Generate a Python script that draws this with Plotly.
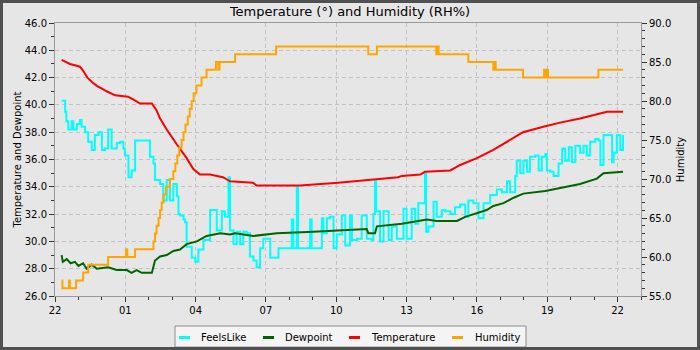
import pandas as pd
import plotly.graph_objects as go

# Readings are logged as minutes after 22:00 on the first evening.
START = pd.Timestamp("2024-03-09 22:00")

# Temperature (°)
temp_min = [17, 30, 38, 51, 64, 72, 83, 94, 107, 120, 132, 154, 187, 200, 218, 248,
            260, 269, 286, 312, 337, 354, 371, 397, 430, 448, 507, 516, 627, 725,
            763, 819, 878, 888, 935, 947, 1012, 1037, 1080, 1122, 1165, 1198, 1250,
            1293, 1344, 1387, 1413, 1454]
temp_val = [43.3, 43.1, 43.0, 42.9, 42.8, 42.5, 42.0, 41.7, 41.4, 41.2, 41.0, 40.7,
            40.6, 40.4, 40.1, 40.1, 39.6, 39.0, 38.2, 37.1, 36.1, 35.3, 34.9, 34.9,
            34.7, 34.4, 34.3, 34.1, 34.1, 34.3, 34.4, 34.6, 34.7, 34.8, 34.9, 35.1,
            35.2, 35.6, 36.1, 36.7, 37.4, 38.0, 38.4, 38.7, 39.0, 39.3, 39.5, 39.5]

# Dewpoint (°)
dew_min = [17, 20, 30, 40, 51, 60, 72, 81, 94, 107, 136, 158, 184, 196, 209, 222,
           248, 256, 269, 286, 303, 320, 337, 363, 388, 423, 448, 461, 508, 568,
           661, 725, 798, 802, 819, 824, 888, 930, 952, 977, 1029, 1050, 1084,
           1105, 1122, 1148, 1174, 1199, 1255, 1293, 1344, 1387, 1404, 1454]
dew_val = [29.0, 28.5, 28.7, 28.4, 28.5, 28.2, 28.4, 28.0, 28.3, 28.0, 28.1, 27.9,
           27.9, 27.7, 27.9, 27.7, 27.7, 28.6, 28.9, 29.0, 29.3, 29.4, 29.8, 30.0,
           30.4, 30.6, 30.5, 30.6, 30.4, 30.6, 30.7, 30.8, 30.9, 30.6, 30.6, 31.1,
           31.3, 31.5, 31.6, 31.5, 31.5, 31.8, 32.1, 32.3, 32.6, 32.8, 33.2, 33.5,
           33.7, 33.9, 34.2, 34.6, 35.0, 35.1]

# FeelsLike (°)
feels_min = [17, 26, 29, 34, 43, 47, 56, 64, 68, 77, 85, 94, 102, 111, 120, 128,
             136, 145, 158, 166, 175, 179, 188, 196, 205, 243, 252, 256, 269, 277,
             286, 294, 303, 312, 316, 320, 329, 333, 337, 350, 359, 367, 380, 397,
             414, 427, 435, 444, 448, 457, 465, 474, 482, 491, 499, 508, 516, 525,
             533, 551, 572, 606, 610, 619, 622, 653, 657, 683, 687, 696, 704, 713,
             721, 734, 743, 755, 760, 773, 785, 798, 811, 815, 819, 822, 832, 841,
             854, 862, 875, 892, 900, 913, 922, 930, 947, 950, 956, 969, 977, 990,
             999, 1012, 1024, 1037, 1050, 1058, 1071, 1084, 1097, 1114, 1131, 1144,
             1157, 1165, 1178, 1182, 1191, 1199, 1208, 1216, 1229, 1238, 1246, 1255,
             1259, 1268, 1276, 1289, 1298, 1306, 1315, 1323, 1332, 1344, 1353, 1361,
             1370, 1383, 1391, 1396, 1404, 1417, 1426, 1430, 1438, 1447, 1454]
feels_val = [40.3, 39.5, 38.8, 38.2, 38.8, 38.2, 38.6, 38.9, 38.4, 38.0, 37.3, 36.7,
             37.8, 38.0, 36.7, 36.8, 38.2, 36.8, 37.2, 37.3, 36.8, 36.3, 34.7, 35.2,
             37.4, 36.2, 35.7, 34.5, 34.2, 33.0, 34.5, 33.0, 34.2, 33.3, 32.0, 31.9,
             31.6, 31.4, 29.6, 28.8, 28.5, 29.4, 30.1, 32.3, 30.8, 32.2, 31.8, 34.7,
             30.8, 29.8, 30.7, 29.8, 30.7, 30.6, 28.9, 28.6, 28.1, 29.5, 30.2, 28.8,
             29.5, 31.6, 29.5, 34.0, 29.5, 31.6, 29.5, 31.7, 30.6, 31.7, 31.8, 29.5,
             30.5, 31.9, 29.7, 31.9, 30.1, 30.2, 31.9, 30.2, 30.1, 32.0, 34.4, 32.2,
             30.0, 32.2, 30.1, 31.1, 30.2, 32.4, 30.2, 32.4, 31.3, 32.8, 35.0, 30.7,
             31.1, 32.9, 31.8, 32.3, 32.2, 32.0, 32.5, 32.7, 31.8, 33.0, 32.8, 31.7,
             32.8, 33.4, 33.8, 33.6, 34.4, 33.6, 34.8, 35.9, 35.0, 35.9, 35.1, 36.2,
             36.3, 35.2, 36.2, 36.4, 35.2, 35.1, 34.8, 35.7, 36.8, 35.9, 36.9, 35.8,
             37.0, 36.5, 37.0, 36.3, 37.3, 37.5, 37.4, 35.6, 37.8, 37.8, 35.8, 36.5,
             37.8, 36.7, 37.8]

# Humidity (RH%)
hum_min = [17, 19, 36, 38, 54, 72, 85, 136, 182, 185, 205, 252, 256, 260, 265, 269,
           273, 278, 284, 294, 303, 308, 313, 318, 324, 329, 334, 340, 345, 350, 355,
           362, 375, 388, 412, 418, 421, 461, 566, 802, 824, 976, 979, 982, 1058,
           1122, 1125, 1128, 1198, 1252, 1256, 1259, 1262, 1391, 1454]
hum_val = [57, 56, 57, 56, 57, 58, 59, 60, 61, 60, 61, 62, 63, 64, 65, 66,
           67, 68, 69, 70, 71, 72, 73, 74, 75, 76, 77, 78, 79, 80, 81,
           82, 83, 84, 85, 84, 85, 86, 87, 86, 87, 86, 87, 86, 85,
           84, 85, 84, 83, 84, 83, 84, 83, 84, 84]

series_names = ["FeelsLike", "Dewpoint", "Temperature", "Humidity"]
series_colors = ["#00ffff", "#006400", "#ff0000", "#ffa500"]


def clock(mins):
    return [START + pd.Timedelta(minutes=m) for m in mins]


FONT = "DejaVu Sans"
W, H = 700, 350
ML, MR, MT, MB = 55, 59, 23, 54
PW, PH = W - ML - MR, H - MT - MB
GRID = dict(showgrid=True, gridcolor="#c2c2c2", griddash="4px,3px", gridwidth=1)


def px_x(px):
    """Canvas pixel column -> paper x."""
    return (px - ML) / PW


def px_y(py):
    """Canvas pixel row -> paper y."""
    return (MT + PH - py) / PH


fig = go.Figure()

fig.add_trace(go.Scatter(x=clock(feels_min), y=feels_val, mode="lines",
                         name=series_names[0],
                         line=dict(color=series_colors[0], width=2, shape="hv")))
fig.add_trace(go.Scatter(x=clock(dew_min), y=dew_val, mode="lines",
                         name=series_names[1],
                         line=dict(color=series_colors[1], width=2)))
fig.add_trace(go.Scatter(x=clock(temp_min), y=temp_val, mode="lines",
                         name=series_names[2],
                         line=dict(color=series_colors[2], width=2)))
fig.add_trace(go.Scatter(x=clock(hum_min), y=hum_val, mode="lines", yaxis="y2",
                         name=series_names[3],
                         line=dict(color=series_colors[3], width=2, shape="hv")))

axis_common = dict(showline=True, linecolor="#999999", linewidth=1,
                   ticks="outside", ticklen=5, tickcolor="#333333",
                   tickfont=dict(family=FONT, size=10, color="#000000"),
                   zeroline=False)

fig.update_layout(
    width=W, height=H,
    margin=dict(l=ML, r=MR, t=MT, b=MB, autoexpand=False),
    paper_bgcolor="#e6e6e6", plot_bgcolor="#e6e6e6",
    font=dict(family=FONT, size=10, color="#000000"),
    showlegend=False,
    title=dict(text="Temperature (°) and Humidity (RH%)", x=0.5, xanchor="center",
               y=1 - 11 / H, yanchor="middle", font=dict(family=FONT, size=13)),
    xaxis=dict(**axis_common, **GRID, type="date", mirror=True,
               range=[START, START + pd.Timedelta(hours=25)],
               tick0=START, dtick=3 * 3600000, tickformat="%H",
               minor=dict(dtick=3600000, ticklen=3, tickcolor="#333333", showgrid=False)),
    yaxis=dict(**axis_common, **GRID, mirror=True, range=[26, 46], dtick=2,
               tickformat=".1f",
               title=dict(text="Temperature and Dewpoint", font=dict(family=FONT, size=10),
                          standoff=1),
               minor=dict(dtick=1, ticklen=3, tickcolor="#333333", showgrid=False)),
    yaxis2=dict(**axis_common, overlaying="y", side="right", range=[55, 90], dtick=5,
                tickformat=".1f", showgrid=False,
                title=dict(text="Humidity", font=dict(family=FONT, size=10), standoff=6),
                minor=dict(dtick=1, ticklen=3, tickcolor="#333333", showgrid=False)),
)

# Legend box below the plot: short dash swatch followed by the series name
legend_box = (175, 326, 526, 347)
swatch_x = [(179, 190), (263, 274), (349, 360), (452, 463)]
label_x = [199, 283, 369, 473]
legend_mid = 337.5

fig.add_shape(type="rect", xref="paper", yref="paper",
              x0=px_x(legend_box[0]), x1=px_x(legend_box[2]),
              y0=px_y(legend_box[3]), y1=px_y(legend_box[1]),
              line=dict(color="#8c8c8c", width=1), fillcolor="#f4f4f4")
for name, color, (sx0, sx1), lx in zip(series_names, series_colors, swatch_x, label_x):
    fig.add_shape(type="line", xref="paper", yref="paper",
                  x0=px_x(sx0), x1=px_x(sx1), y0=px_y(legend_mid), y1=px_y(legend_mid),
                  line=dict(color=color, width=3))
    fig.add_annotation(text=name, xref="paper", yref="paper", x=px_x(lx),
                       y=px_y(legend_mid), xanchor="left", yanchor="middle",
                       showarrow=False, font=dict(family=FONT, size=10, color="#000000"))

# dark frame around the whole canvas
inset = 1.5
fig.add_shape(type="rect", xref="paper", yref="paper",
              x0=px_x(inset), x1=px_x(W - inset),
              y0=px_y(H - inset), y1=px_y(inset),
              line=dict(color="#505050", width=3), fillcolor="rgba(0,0,0,0)")

fig.write_html("out.html")
